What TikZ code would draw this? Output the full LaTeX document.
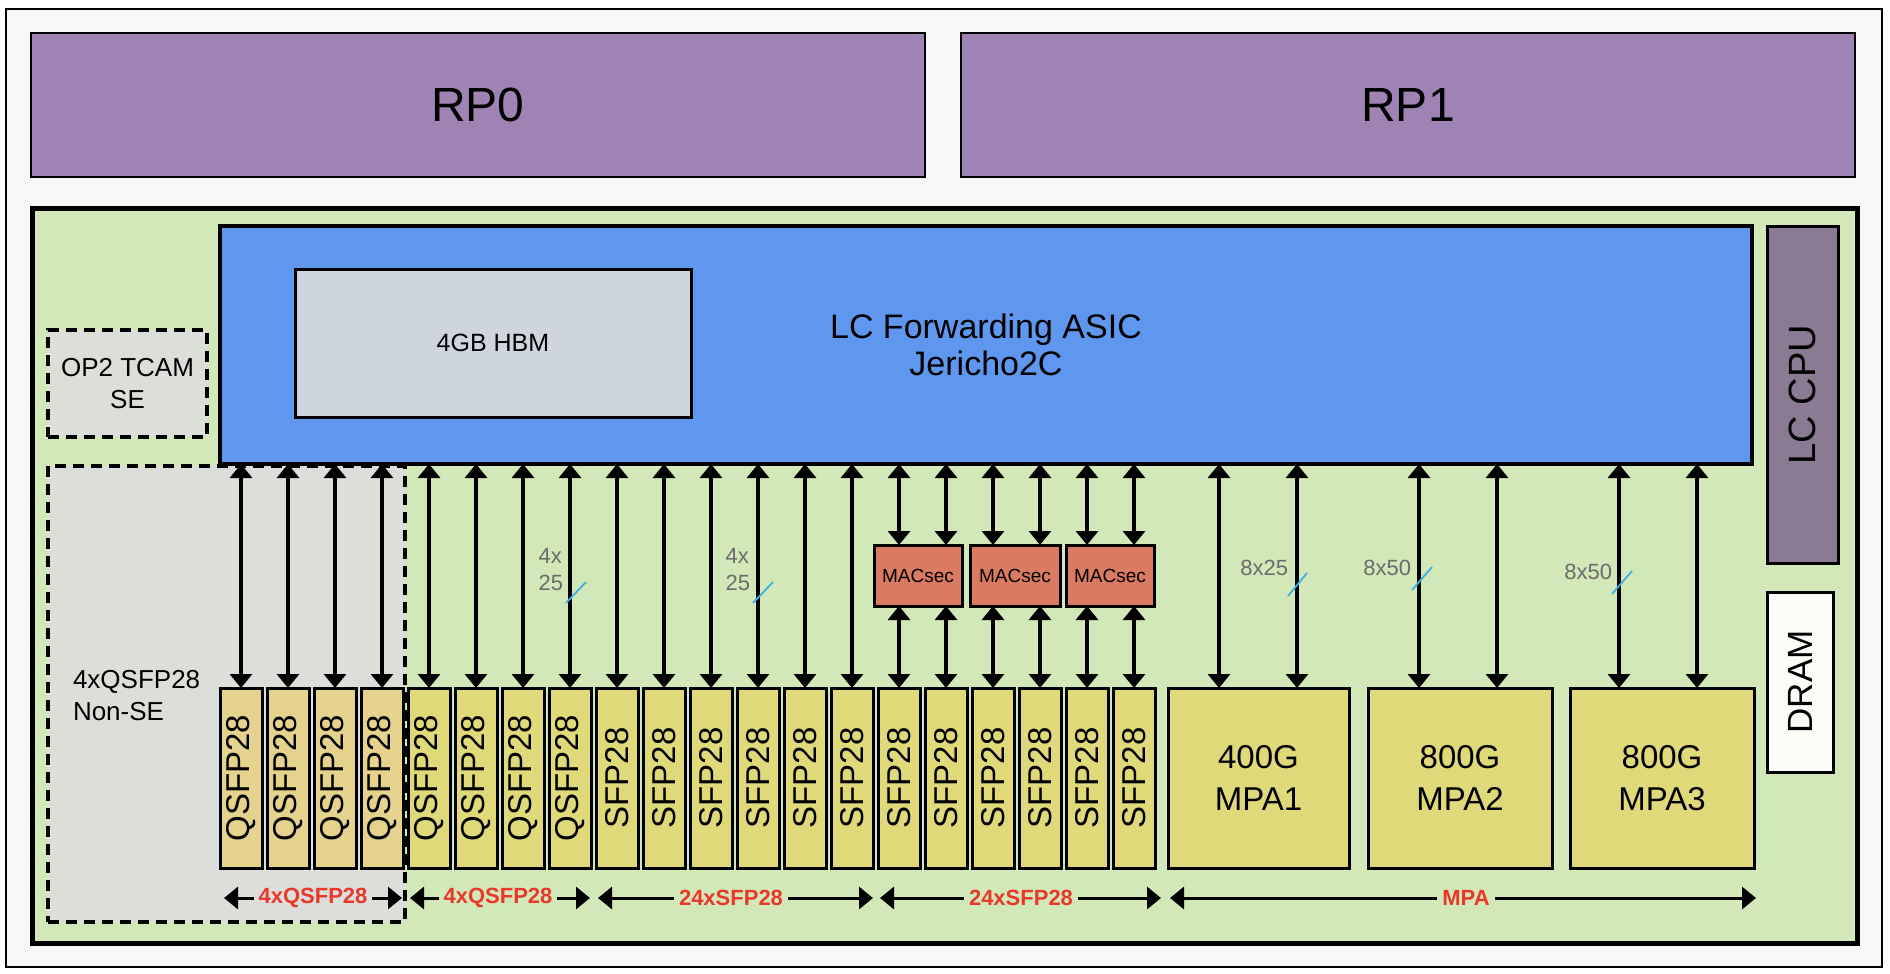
\documentclass[tikz,border=0pt]{standalone}
\usepackage{fontspec}
\setmainfont{Liberation Sans}
\usetikzlibrary{arrows.meta}
\definecolor{bgout}{HTML}{F8F8F8}
\definecolor{rpc}{HTML}{9E83B4}
\definecolor{boardc}{HTML}{D3E8B8}
\definecolor{grayc}{HTML}{DCDED9}
\definecolor{asicc}{HTML}{5F97EF}
\definecolor{hbmc}{HTML}{CED5DF}
\definecolor{cpuc}{HTML}{8B7A94}
\definecolor{macc}{HTML}{D97A61}
\definecolor{qbeige}{HTML}{E5D28D}
\definecolor{yel}{HTML}{DFD97A}
\definecolor{lblgray}{HTML}{6B6B6B}
\definecolor{slashc}{HTML}{3DAEE3}
\definecolor{redc}{HTML}{E8382C}
\definecolor{dramc}{HTML}{FBFDF9}
\begin{document}
\begin{tikzpicture}[x=1pt,y=-1pt,
  every node/.style={inner sep=0pt, outer sep=0pt},
  bx/.style={draw, anchor=north west, align=center},
  dashedbox/.style={draw, line width=3.5pt, dash pattern=on 11pt off 7pt, fill=grayc, anchor=north west, align=center},
  port/.style={bx, line width=3pt, minimum width=42pt, minimum height=180pt, font=\fontsize{33}{33}\selectfont},
  macbox/.style={bx, line width=3pt, fill=macc, minimum height=61pt, font=\fontsize{19}{20}\selectfont},
  mpabox/.style={bx, line width=3pt, fill=yel, minimum height=180pt, font=\fontsize{33}{42}\selectfont},
  dbl/.style={line width=3.2pt, {Triangle[width=22pt,length=14pt]}-{Triangle[width=22pt,length=14pt]}},
  rng/.style={line width=3pt, -{Triangle[width=22pt,length=14pt]}},
  rtxt/.style={text=redc, font=\fontsize{22}{24}\selectfont\bfseries, inner xsep=5pt},
  lbl/.style={text=lblgray, align=left, font=\fontsize{22}{27}\selectfont},
  slash/.style={draw=slashc, line width=1.8pt}
]
\useasboundingbox (0,0) rectangle (1890,974);
% frames
\node[bx, line width=2pt, fill=bgout, minimum width=1876pt, minimum height=958pt] (outer) at (6,9) {};
\node[bx, line width=2pt, fill=rpc, minimum width=894pt, minimum height=144pt, font=\fontsize{48}{52}\selectfont] (rp0) at (31,33) {RP0};
\node[bx, line width=2pt, fill=rpc, minimum width=894pt, minimum height=144pt, font=\fontsize{48}{52}\selectfont] (rp1) at (961,33) {RP1};
\node[bx, line width=5pt, fill=boardc, minimum width=1825pt, minimum height=735pt] (board) at (32,208) {};
% dashed areas
\node[dashedbox, minimum width=159pt, minimum height=107pt, font=\fontsize{26}{32}\selectfont] (tcam) at (48,330) {OP2 TCAM\\SE};
\node[dashedbox, minimum width=357pt, minimum height=456pt] (nonse) at (48,466) {};
\node[anchor=west, align=left, font=\fontsize{26}{32}\selectfont] (nonsetxt) at (73,696) {4xQSFP28\\Non-SE};
% ASIC
\node[bx, line width=3.5pt, fill=asicc, minimum width=1532pt, minimum height=238pt, font=\fontsize{34}{37}\selectfont] (asic) at (220,226) {LC Forwarding ASIC\\Jericho2C};
\node[bx, line width=3pt, fill=hbmc, minimum width=396pt, minimum height=148pt, font=\fontsize{25}{30}\selectfont] (hbm) at (295,269) {4GB HBM};
% CPU, DRAM
\node[bx, line width=3pt, fill=cpuc, minimum width=71pt, minimum height=337pt, font=\fontsize{38}{40}\selectfont] (cpu) at (1767,226) {\rotatebox{90}{LC CPU}};
\node[bx, line width=3pt, fill=dramc, minimum width=66pt, minimum height=180pt, font=\fontsize{35}{40}\selectfont] (dram) at (1767,592) {\rotatebox{90}{DRAM}};
% ports
\foreach \i in {0,...,3}
  \node[port, fill=qbeige] (p\i) at ({220+47*\i},688) {\rotatebox{90}{QSFP28}};
\foreach \i in {4,...,7}
  \node[port, fill=yel] (p\i) at ({220+47*\i},688) {\rotatebox{90}{QSFP28}};
\foreach \i in {8,...,19}
  \node[port, fill=yel] (p\i) at ({220+47*\i},688) {\rotatebox{90}{SFP28}};
% MACsec
\node[macbox, minimum width=88pt] (m1) at (874,545) {MACsec};
\node[macbox, minimum width=90pt] (m2) at (970,545) {MACsec};
\node[macbox, minimum width=88pt] (m3) at (1066,545) {MACsec};
% MPA
\node[mpabox, minimum width=181pt] (mpa1) at (1168,688) {400G\\MPA1};
\node[mpabox, minimum width=184pt] (mpa2) at (1368,688) {800G\\MPA2};
\node[mpabox, minimum width=184pt] (mpa3) at (1570,688) {800G\\MPA3};
% connectors
\foreach \i in {0,...,13}
  \draw[dbl] (p\i.north) -- (p\i.north |- asic.south);
\foreach \i/\m in {14/m1,15/m1,16/m2,17/m2,18/m3,19/m3}{
  \draw[dbl] (p\i.north) -- (p\i.north |- \m.south);
  \draw[dbl] (p\i.north |- \m.north) -- (p\i.north |- asic.south);
}
\foreach \m/\a/\b in {mpa1/51/129,mpa2/51/129,mpa3/49/127}{
  \coordinate (L\m) at ([xshift=\a pt]\m.north west);
  \coordinate (R\m) at ([xshift=\b pt]\m.north west);
  \draw[dbl] (L\m) -- (L\m |- asic.south);
  \draw[dbl] (R\m) -- (R\m |- asic.south);
}
% link labels
\node[lbl, anchor=east] (l1) at (563,570) {4x\\25};
\draw[slash] (566,603) -- (586,582);
\node[lbl, anchor=east] (l2) at (750,570) {4x\\25};
\draw[slash] (753,603) -- (773,582);
\node[lbl, anchor=east] (l3) at (1288,568) {8x25};
\draw[slash] (1288,596) -- (1307,573);
\node[lbl, anchor=east] (l4) at (1411,568) {8x50};
\draw[slash] (1412,590) -- (1432,567);
\node[lbl, anchor=east] (l5) at (1612,572) {8x50};
\draw[slash] (1612,594) -- (1632,571);
% range arrows
\node[rtxt] (r1) at (313,898) {4xQSFP28};
\coordinate (r1a) at (224,898); \coordinate (r1b) at (402,898);
\node[rtxt] (r2) at (498,898) {4xQSFP28};
\coordinate (r2a) at (410,898); \coordinate (r2b) at (590,898);
\node[rtxt] (r3) at (731,898) {24xSFP28};
\coordinate (r3a) at (598,898); \coordinate (r3b) at (873,898);
\node[rtxt] (r4) at (1021,898) {24xSFP28};
\coordinate (r4a) at (880,898); \coordinate (r4b) at (1161,898);
\node[rtxt] (r5) at (1466,898) {MPA};
\coordinate (r5a) at (1170,898); \coordinate (r5b) at (1756,898);
\foreach \r in {r1,r2,r3,r4,r5}{
  \draw[rng] (\r.west) -- (\r a);
  \draw[rng] (\r.east) -- (\r b);
}
\end{tikzpicture}
\end{document}
